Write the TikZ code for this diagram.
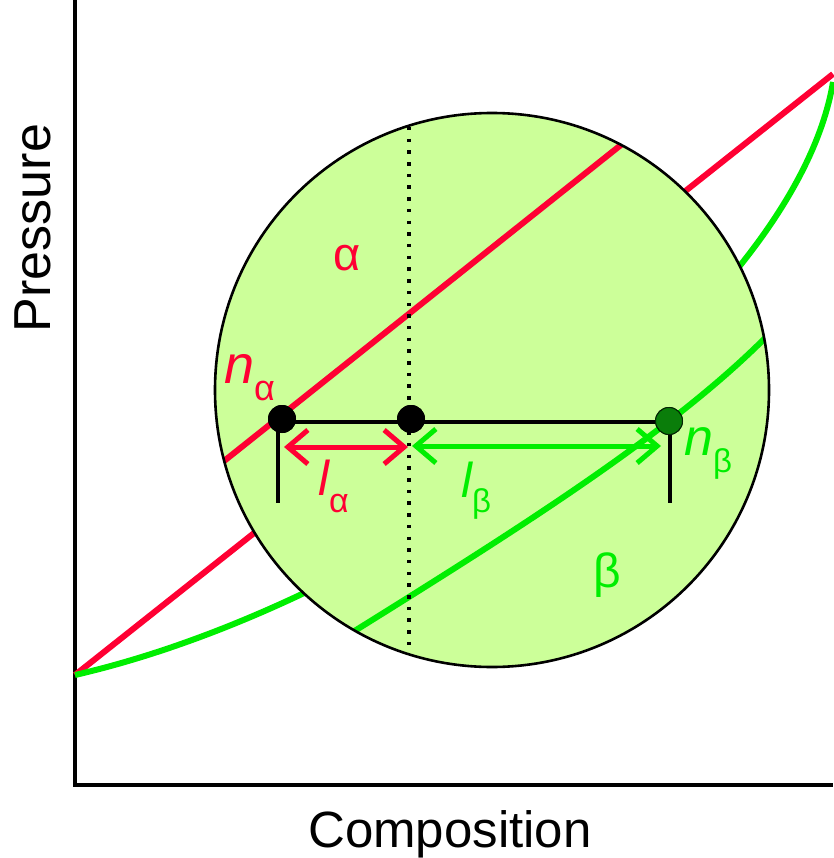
\documentclass[tikz,border=0pt]{standalone}
\usepackage{fontspec}
\setmainfont{Liberation Sans}
\usetikzlibrary{arrows.meta}
\definecolor{pred}{RGB}{255,0,51}
\definecolor{pgreen}{RGB}{0,238,0}
\definecolor{plight}{RGB}{204,255,153}
\definecolor{pdark}{RGB}{10,125,10}
\tikzset{
  axis/.style={line width=3.5pt, black},
  redline/.style={line width=6pt, pred},
  greenline/.style={line width=6pt, pgreen},
  tie/.style={line width=3.2pt, black},
  dotline/.style={line width=3.5pt, black, dash pattern=on 3.5pt off 8.2pt},
  blackdot/.style={circle, fill=black, minimum size=28pt, inner sep=0pt},
  greendot/.style={circle, fill=pdark, draw=black!70!pdark, line width=1pt, minimum size=27pt, inner sep=0pt},
  redarrow/.style={line width=5pt, pred, {Straight Barb[length=20pt,width=34pt]}-{Straight Barb[length=20pt,width=34pt]}},
  greenarrow/.style={line width=5pt, pgreen, {Straight Barb[length=20pt,width=34pt]}-{Straight Barb[length=20pt,width=34pt]}},
  lbl/.style={inner sep=0pt, anchor=base west},
}
\begin{document}
\begin{tikzpicture}[x=1pt,y=-1pt]
\useasboundingbox (0,0) rectangle (833,858);
% axes
\coordinate (ytop) at (75,0);
\coordinate (orig) at (75,785);
\coordinate (xend) at (833,785);
\draw[axis] (ytop) -- (orig) -- (xend);
% outside curves
\coordinate (s) at (75,675);
\coordinate (rend) at (833,74);
\coordinate (gend) at (833,82);
\draw[redline] (s) -- (rend);
\draw[greenline] (s) .. controls (400,600) and (795,310) .. (gend);
% lens
\coordinate (c) at (492,390);
\fill[plight] (c) circle[radius=277];
\begin{scope}
  \clip (c) circle[radius=277];
  \coordinate (ra) at (150,520);
  \coordinate (rb) at (700,82);
  \draw[redline] (ra) -- (rb);
  \coordinate (ga) at (300,665);
  \coordinate (gb) at (800,300);
  \draw[greenline] (ga) .. controls (500,540) and (700,420) .. (gb);
\end{scope}
\draw[black, line width=2.6pt] (c) circle[radius=277];
% dotted vertical
\coordinate (dt) at (409,127);
\coordinate (db) at (409,650);
\draw[dotline] (dt) -- (db);
% tie line and drops
\node[blackdot] (na) at (282,419) {};
\node[blackdot] (nm) at (411,419) {};
\node[greendot] (nb) at (669,421) {};
\coordinate (ta) at (280,422);
\coordinate (tb) at (669,422);
\coordinate (va) at (278,503);
\coordinate (vb) at (670,503);
\draw[tie] (ta) -- (tb);
\draw[tie] (278,422) -- (va);
\draw[tie] (670,422) -- (vb);
\node[blackdot] at (na) {};
\node[blackdot] at (nm) {};
\node[greendot] at (nb) {};
% arrows
\coordinate (a1) at (284,447);
\coordinate (a2) at (408,447);
\coordinate (a3) at (412,446);
\coordinate (a4) at (661,446);
\draw[greenarrow] (a3) -- (a4);
\draw[redarrow] (a1) -- (a2);
% labels
\node[lbl, pred] (lalpha) at (333,270) {\fontsize{47}{50}\selectfont α};
\node[lbl, pgreen] (lbeta) at (593,587) {\fontsize{48}{50}\selectfont β};
\node[lbl, pred] (lna) at (224,383) {\fontsize{54}{60}\selectfont\itshape n\fontsize{36}{40}\selectfont\upshape\raisebox{-17pt}{α}};
\node[lbl, pgreen] (lnb) at (684,455) {\fontsize{52}{60}\selectfont\itshape n\fontsize{33}{36}\selectfont\upshape\raisebox{-17pt}{β}};
\node[lbl, pred] (lla) at (318,495) {\fontsize{49}{60}\selectfont\itshape l\fontsize{34}{36}\selectfont\upshape\raisebox{-17pt}{α}};
\node[lbl, pgreen] (llb) at (461,497) {\fontsize{49}{60}\selectfont\itshape l\fontsize{33}{36}\selectfont\upshape\raisebox{-15pt}{β}};
\node[inner sep=0pt, anchor=base, rotate=90] (ylab) at (50,228) {\fontsize{52}{60}\selectfont Pressure};
\node[inner sep=0pt, anchor=base] (xlab) at (450,847) {\fontsize{51}{60}\selectfont Composition};
\end{tikzpicture}
\end{document}
